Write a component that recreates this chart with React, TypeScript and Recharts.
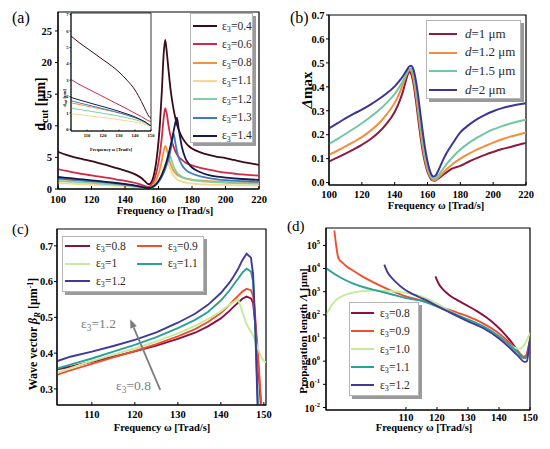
import React from 'react';
import { LineChart, Line, XAxis, YAxis, ReferenceArea, ReferenceLine } from 'recharts';

const SERIF = '"Liberation Serif", "Times New Roman", Times, serif';

// ---------- (a) cut-off thickness ----------
const FREQ_A = [100, 105, 110, 115, 120, 125, 130, 135, 140, 144, 147, 150, 152, 154, 155, 156, 157, 158, 159, 160, 161, 162, 163, 164, 165, 166, 167, 168, 169, 170, 171, 172, 174, 176, 178, 180, 185, 190, 195, 200, 205, 210, 215, 220];
const DCUT_04 = [5.9, 5.4, 5.0, 4.7, 4.4, 4.05, 3.7, 3.3, 2.9, 2.55, 2.2, 1.7, 1.2, 0.75, 0.8, 1.2, 1.95, 3.2, 5.0, 7.5, 10.9, 15.5, 21.0, 23.6, 21.5, 18.8, 16.2, 14.2, 12.6, 11.3, 10.2, 9.4, 8.2, 7.4, 6.8, 6.4, 5.8, 5.4, 5.1, 4.9, 4.6, 4.3, 4.05, 3.8];
const DCUT_06 = [3.15, 2.85, 2.6, 2.35, 2.15, 1.95, 1.75, 1.5, 1.3, 1.1, 0.9, 0.65, 0.45, 0.35, 0.45, 0.75, 1.2, 1.9, 2.9, 4.2, 5.9, 8.2, 11.0, 12.8, 11.8, 10.0, 8.6, 7.5, 6.7, 6.0, 5.5, 5.1, 4.6, 4.2, 3.95, 3.75, 3.35, 3.05, 2.8, 2.6, 2.45, 2.3, 2.2, 2.1];
const DCUT_08 = [1.6, 1.48, 1.37, 1.27, 1.17, 1.07, 0.96, 0.84, 0.7, 0.58, 0.46, 0.32, 0.22, 0.18, 0.25, 0.45, 0.75, 1.15, 1.7, 2.4, 3.3, 4.5, 5.9, 6.8, 6.2, 5.1, 4.1, 3.4, 2.9, 2.55, 2.3, 2.1, 1.85, 1.7, 1.6, 1.5, 1.35, 1.25, 1.17, 1.1, 1.06, 1.03, 1.0, 0.98];
const DCUT_11 = [0.95, 0.88, 0.82, 0.76, 0.7, 0.64, 0.57, 0.5, 0.42, 0.34, 0.27, 0.18, 0.12, 0.1, 0.14, 0.25, 0.42, 0.65, 0.95, 1.35, 1.85, 2.45, 3.15, 3.8, 4.3, 3.9, 3.2, 2.55, 2.1, 1.78, 1.55, 1.38, 1.16, 1.03, 0.94, 0.87, 0.77, 0.7, 0.66, 0.63, 0.6, 0.58, 0.56, 0.55];
const DCUT_12 = [1.3, 1.21, 1.12, 1.04, 0.96, 0.87, 0.78, 0.68, 0.57, 0.46, 0.36, 0.24, 0.16, 0.12, 0.15, 0.25, 0.4, 0.62, 0.9, 1.25, 1.7, 2.25, 2.9, 3.7, 4.6, 5.4, 5.2, 4.4, 3.6, 3.0, 2.6, 2.3, 1.92, 1.68, 1.53, 1.42, 1.25, 1.12, 1.04, 0.98, 0.93, 0.9, 0.87, 0.85];
const DCUT_13 = [1.7, 1.58, 1.46, 1.35, 1.24, 1.12, 1.0, 0.87, 0.72, 0.58, 0.45, 0.3, 0.2, 0.15, 0.17, 0.25, 0.38, 0.56, 0.8, 1.1, 1.5, 1.95, 2.5, 3.15, 3.9, 4.8, 5.9, 7.3, 8.8, 7.4, 6.0, 5.0, 3.8, 3.1, 2.7, 2.45, 2.0, 1.72, 1.53, 1.4, 1.31, 1.24, 1.19, 1.15];
const DCUT_14 = [1.9, 1.77, 1.64, 1.51, 1.38, 1.25, 1.1, 0.95, 0.79, 0.64, 0.5, 0.34, 0.24, 0.18, 0.2, 0.28, 0.42, 0.62, 0.9, 1.25, 1.7, 2.25, 2.9, 3.65, 4.5, 5.5, 6.6, 7.8, 9.1, 10.4, 11.3, 9.6, 6.6, 4.9, 4.0, 3.4, 2.65, 2.2, 1.95, 1.8, 1.68, 1.58, 1.5, 1.45];

// inset of (a)
const FREQ_IN = [100, 105, 110, 115, 120, 125, 130, 135, 140, 144, 147, 149, 150];
const IN_04 = [5.7, 5.3, 4.95, 4.6, 4.25, 3.9, 3.5, 3.0, 2.4, 1.7, 1.1, 0.75, 0.7];
const IN_06 = [3.05, 2.75, 2.5, 2.25, 2.0, 1.75, 1.5, 1.25, 0.98, 0.78, 0.6, 0.5, 0.48];
const IN_08 = [1.62, 1.52, 1.42, 1.32, 1.22, 1.12, 1.0, 0.87, 0.71, 0.55, 0.4, 0.27, 0.2];
const IN_11 = [0.95, 0.9, 0.84, 0.78, 0.72, 0.66, 0.59, 0.52, 0.44, 0.36, 0.27, 0.19, 0.15];
const IN_12 = [1.3, 1.22, 1.14, 1.06, 0.98, 0.9, 0.81, 0.71, 0.59, 0.47, 0.35, 0.24, 0.19];
const IN_13 = [1.75, 1.62, 1.5, 1.38, 1.26, 1.14, 1.01, 0.87, 0.71, 0.55, 0.4, 0.27, 0.21];
const IN_14 = [1.95, 1.8, 1.66, 1.52, 1.39, 1.25, 1.1, 0.94, 0.76, 0.58, 0.42, 0.28, 0.22];

const EPS_A = ['0.4', '0.6', '0.8', '1.1', '1.2', '1.3', '1.4'];
const COLORS_A = ['#3a0b18', '#d12a45', '#f5923e', '#fdd590', '#7fcfa5', '#3b7dc2', '#191947'];
const MAIN_A = [DCUT_04, DCUT_06, DCUT_08, DCUT_11, DCUT_12, DCUT_13, DCUT_14];
const INSET_A = [IN_04, IN_06, IN_08, IN_11, IN_12, IN_13, IN_14];

// ---------- (b) Δmax ----------
const FREQ_B = [100, 105, 110, 115, 120, 125, 130, 135, 140, 143, 145, 147, 148, 149, 150, 151, 152, 153, 154, 155, 156, 157, 158, 159, 160, 161, 162, 163, 164, 165, 166, 168, 170, 172, 175, 180, 185, 190, 195, 200, 205, 210, 215, 220];
const DMAX_1 = [0.088, 0.104, 0.121, 0.139, 0.158, 0.18, 0.208, 0.245, 0.295, 0.34, 0.38, 0.43, 0.452, 0.463, 0.455, 0.43, 0.39, 0.34, 0.285, 0.23, 0.18, 0.135, 0.098, 0.068, 0.045, 0.028, 0.016, 0.01, 0.008, 0.01, 0.014, 0.024, 0.035, 0.045, 0.058, 0.07, 0.087, 0.102, 0.116, 0.128, 0.139, 0.148, 0.157, 0.165];
const DMAX_12 = [0.116, 0.133, 0.151, 0.17, 0.19, 0.215, 0.245, 0.284, 0.333, 0.375, 0.41, 0.448, 0.463, 0.472, 0.468, 0.448, 0.413, 0.366, 0.312, 0.256, 0.203, 0.155, 0.114, 0.08, 0.054, 0.034, 0.021, 0.013, 0.01, 0.012, 0.017, 0.03, 0.045, 0.058, 0.076, 0.1, 0.12, 0.138, 0.153, 0.167, 0.18, 0.191, 0.2, 0.209];
const DMAX_15 = [0.162, 0.182, 0.203, 0.225, 0.248, 0.273, 0.3, 0.332, 0.37, 0.4, 0.424, 0.452, 0.466, 0.476, 0.477, 0.465, 0.437, 0.395, 0.343, 0.287, 0.232, 0.18, 0.135, 0.097, 0.067, 0.045, 0.029, 0.019, 0.015, 0.018, 0.025, 0.043, 0.062, 0.08, 0.104, 0.138, 0.165, 0.187, 0.206, 0.222, 0.235, 0.246, 0.255, 0.263];
const DMAX_2 = [0.226, 0.247, 0.268, 0.287, 0.305, 0.325, 0.347, 0.372, 0.402, 0.426, 0.444, 0.466, 0.477, 0.486, 0.488, 0.48, 0.458, 0.423, 0.378, 0.325, 0.27, 0.216, 0.167, 0.124, 0.088, 0.06, 0.04, 0.028, 0.025, 0.03, 0.042, 0.072, 0.102, 0.128, 0.16, 0.21, 0.24, 0.264, 0.283, 0.298, 0.31, 0.319, 0.326, 0.332];
const D_LABELS = ['1', '1.2', '1.5', '2'];
const COLORS_B = ['#8e1b3c', '#f68c3e', '#70c7a2', '#3c3597'];
const SERIES_B = [DMAX_1, DMAX_12, DMAX_15, DMAX_2];

// ---------- (c) wave vector ----------
const FREQ_C = [102, 105, 110, 115, 120, 125, 130, 134, 137, 140, 142, 143, 144, 145, 146, 147, 147.5, 148, 148.5, 149, 149.5, 150, 150.5];
const BETA_08 = [0.355, 0.362, 0.376, 0.39, 0.405, 0.421, 0.44, 0.457, 0.475, 0.497, 0.518, 0.53, 0.541, 0.552, 0.558, 0.553, 0.54, 0.48, 0.4, 0.31, 0.22, 0.1, 0.05];
const BETA_09 = [0.34, 0.352, 0.37, 0.388, 0.406, 0.425, 0.447, 0.467, 0.487, 0.512, 0.535, 0.548, 0.56, 0.572, 0.58, 0.576, 0.56, 0.5, 0.42, 0.33, 0.24, 0.1, 0.05];
const BETA_10 = [0.345, 0.358, 0.378, 0.396, 0.413, 0.433, 0.455, 0.476, 0.495, 0.517, 0.535, 0.543, 0.551, 0.515, 0.48, 0.46, 0.45, 0.435, 0.418, 0.4, 0.387, 0.378, 0.374];
const BETA_11 = [0.357, 0.368, 0.385, 0.404, 0.423, 0.445, 0.47, 0.493, 0.515, 0.547, 0.575, 0.592, 0.608, 0.625, 0.636, 0.628, 0.6, 0.47, 0.3, 0.12, 0.05, 0.05, 0.05];
const BETA_12 = [0.378, 0.39, 0.404, 0.42, 0.437, 0.458, 0.485, 0.51, 0.535, 0.568, 0.597, 0.615, 0.635, 0.66, 0.678, 0.667, 0.62, 0.48, 0.27, 0.1, 0.05, 0.05, 0.05];
const ARROW_C = [{ x: 125.9, y: 0.297 }, { x: 118.9, y: 0.495 }];

// ---------- (d) propagation length ----------
const FREQ_D08 = [119.5, 120.5, 122, 124, 127, 130, 133, 136, 139, 142, 144, 146, 147.3, 148.3, 149, 149.5, 150];
const LEN_D08 = [4570, 2240, 1230, 708, 398, 240, 141, 75.9, 35.5, 14.1, 6.6, 2.8, 1.58, 1.41, 2.0, 4.0, 8.9];
const FREQ_D09 = [86.9, 88.2, 89.5, 91, 93, 96, 100, 105, 110, 115, 120, 125, 130, 135, 140, 143, 146, 148, 149, 149.5, 150];
const LEN_D09 = [436000, 28200, 17800, 12000, 7940, 4470, 2340, 1150, 631, 417, 251, 148, 85.1, 41.7, 15.8, 7.1, 2.8, 1.58, 1.9, 3.2, 6.3];
const FREQ_D10 = [84.2, 85.5, 87, 89, 92, 96, 100, 105, 110, 115, 120, 125, 130, 135, 140, 143, 145, 146.5, 147.5, 148.5, 149.3, 150];
const LEN_D10 = [100, 200, 380, 603, 851, 1050, 1120, 1070, 891, 631, 302, 126, 58.9, 26.3, 10.7, 5.5, 3.8, 3.4, 4.0, 6.0, 10, 16.6];
const FREQ_D11 = [84.2, 86, 89, 93, 97, 100, 105, 110, 115, 120, 125, 130, 135, 140, 143, 146, 148, 149, 149.5, 150];
const LEN_D11 = [10500, 7080, 3980, 2240, 1480, 1170, 794, 525, 398, 229, 120, 63.1, 31.6, 12.0, 5.6, 2.4, 1.35, 1.58, 2.8, 7.1];
const FREQ_D12 = [103, 104, 105.5, 107, 109, 111, 114, 117, 120, 125, 130, 135, 140, 143, 146, 148.3, 149, 149.5, 150];
const LEN_D12 = [14800, 7080, 3800, 2400, 1410, 955, 603, 398, 240, 110, 52.5, 26.3, 9.5, 4.3, 1.78, 0.93, 1.0, 2.5, 8.3];

const EPS_CD = ['0.8', '0.9', '1', '1.1', '1.2'];
const EPS_D = ['0.8', '0.9', '1.0', '1.1', '1.2'];
const COLORS_CD = ['#8b0f3f', '#f24e2e', '#c3eb9b', '#2aa198', '#41389a'];
const SERIES_C = [BETA_08, BETA_09, BETA_10, BETA_11, BETA_12];
const SERIES_D = [
  [FREQ_D08, LEN_D08],
  [FREQ_D09, LEN_D09],
  [FREQ_D10, LEN_D10],
  [FREQ_D11, LEN_D11],
  [FREQ_D12, LEN_D12],
];

const tickStyle = { fontSize: 10.5, fontWeight: 700, fill: '#000', fontFamily: SERIF };

const table = (xs: number[], cols: number[][]) =>
  xs.map((f, i) => {
    const row: Record<string, number> = { f };
    cols.forEach((c, j) => { row['s' + j] = c[i]; });
    return row;
  });

const xTitle = (x: number, y: number, size = 10.5) => ({
  content: () => (
    <text x={x} y={y} textAnchor="middle" fontSize={size} fontWeight={700} fill="#000" fontFamily={SERIF}>
      Frequency ω [Trad/s]
    </text>
  ),
});

const yTitle = (x: number, y: number, size: number, node: React.ReactNode) => ({
  content: () => (
    <text transform={`translate(${x},${y}) rotate(-90)`} textAnchor="middle" fontSize={size} fontWeight={700} fill="#000" fontFamily={SERIF}>
      {node}
    </text>
  ),
});

function PowTick({ x, y, payload }: any) {
  const e = Math.round(Math.log10(payload.value));
  return (
    <text x={x} y={y} dy={4} textAnchor="end" fontSize={10} fontWeight={700} fill="#000" fontFamily={SERIF}>
      10<tspan dy={-5} fontSize={6.5}>{e}</tspan>
    </text>
  );
}

function FreqTick({ x, y, payload }: any) {
  return (
    <text x={x} y={y} dy={8} textAnchor="middle" fontSize={10.5} fontWeight={700} fill="#000" fontFamily={SERIF}>
      {payload.value}
    </text>
  );
}

function Arrow({ x1, y1, x2, y2 }: any) {
  const a = Math.atan2(y2 - y1, x2 - x1);
  const len = 9, half = 3.5;
  const bx = x2 - len * Math.cos(a), by = y2 - len * Math.sin(a);
  const px = -Math.sin(a) * half, py = Math.cos(a) * half;
  return (
    <g>
      <line x1={x1} y1={y1} x2={bx} y2={by} stroke="#7d7d7d" strokeWidth={1.8} />
      <polygon points={`${x2},${y2} ${bx + px},${by + py} ${bx - px},${by - py}`} fill="#7d7d7d" />
    </g>
  );
}

function Eps({ v }: { v: string }) {
  return (
    <>ε<span style={{ fontSize: '0.7em', position: 'relative', top: '0.3em' }}>3</span>={v}</>
  );
}

type LegendProps = {
  left: number; top: number; width: number; height: number;
  items: { color: string; label: React.ReactNode }[];
  fontSize: number; first: number; gap: number; sampleX: number; sampleW: number; textX: number;
  cols?: number; colW?: number; shadow?: number;
};

function LegendBox({ left, top, width, height, items, fontSize, first, gap, sampleX, sampleW, textX, cols = 1, colW = 0, shadow = 3 }: LegendProps) {
  return (
    <div style={{ position: 'absolute', left, top, width, height, background: '#fff', border: '1px solid #b5b5b5', boxShadow: `${shadow}px ${shadow}px 0 #9a9a9a`, boxSizing: 'border-box' }}>
      {items.map((it, i) => {
        const c = i % cols, r = Math.floor(i / cols);
        const cy = first + r * gap;
        return (
          <React.Fragment key={i}>
            <div style={{ position: 'absolute', left: sampleX + c * colW, top: cy - 1, width: sampleW, height: 2, background: it.color }} />
            <div style={{ position: 'absolute', left: textX + c * colW, top: cy - fontSize * 0.65, height: fontSize * 1.3, lineHeight: `${fontSize * 1.3}px`, fontSize, color: '#2a2a2a', whiteSpace: 'nowrap', fontFamily: SERIF }}>
              {it.label}
            </div>
          </React.Fragment>
        );
      })}
    </div>
  );
}

function PanelA() {
  const rows = table(FREQ_A, MAIN_A);
  return (
    <div style={{ position: 'absolute', left: 0, top: 0 }}>
      <LineChart width={275} height={225} data={rows} margin={{ top: 12, right: 16, bottom: 0, left: 0 }}>
        <XAxis dataKey="f" type="number" domain={[100, 220]} ticks={[100, 120, 140, 160, 180, 200, 220]} allowDataOverflow interval={0}
          height={36} stroke="#000" tick={tickStyle} tickSize={-3} tickMargin={10} label={xTitle(165, 214)} />
        <YAxis type="number" domain={[0, 28]} ticks={[0, 5, 10, 15, 20, 25]} allowDataOverflow width={58} interval={0}
          stroke="#000" tick={tickStyle} tickSize={3} tickMargin={3}
          label={yTitle(45, 104, 14, <>d<tspan dy={3} fontSize={10}>cut</tspan><tspan dy={-3}> [μm]</tspan></>)} />
        <ReferenceArea x1={100} x2={220} y1={0} y2={28} fill="none" stroke="#000" strokeWidth={1.2} ifOverflow="visible" />
        {MAIN_A.map((_, j) => (
          <Line key={j} type="monotone" dataKey={'s' + j} stroke={COLORS_A[j]} strokeWidth={1.8} dot={false} isAnimationActive={false} />
        ))}
      </LineChart>
    </div>
  );
}

function Inset() {
  const rows = table(FREQ_IN, INSET_A);
  const small = { fontSize: 4.6, fill: '#000', fontFamily: SERIF, fontWeight: 700 };
  return (
    <div style={{ position: 'absolute', left: 50, top: 5 }}>
      <LineChart width={106} height={150} data={rows} margin={{ top: 8, right: 5, bottom: 0, left: 0 }}>
        <XAxis dataKey="f" type="number" domain={[100, 150]} ticks={[110, 120, 130, 140, 150]} allowDataOverflow interval={0}
          height={24} stroke="#000" strokeWidth={0.8} tick={small} tickSize={-1.5} tickMargin={4}
          label={{ content: () => (
            <text x={61} y={145.5} textAnchor="middle" fontSize={4.6} fontWeight={700} fontFamily={SERIF}>Frequency ω [Trad/s]</text>
          ) }} />
        <YAxis type="number" domain={[-0.1, 7.1]} ticks={[0, 1, 2, 3, 4, 5, 6, 7]} allowDataOverflow width={21} interval={0}
          stroke="#000" strokeWidth={0.8} tick={small} tickSize={1.5} tickMargin={1}
          label={{ content: () => (
            <text transform="translate(15.5,93) rotate(-90)" textAnchor="middle" fontSize={4.6} fontWeight={700} fontFamily={SERIF}>
              d<tspan dy={1} fontSize={3.4}>cut</tspan><tspan dy={-1}> [μm]</tspan>
            </text>
          ) }} />
        <ReferenceArea x1={100} x2={150} y1={-0.1} y2={7.1} fill="#fff" fillOpacity={1} stroke="#000" strokeWidth={0.8} ifOverflow="visible" />
        {INSET_A.map((_, j) => (
          <Line key={j} type="monotone" dataKey={'s' + j} stroke={COLORS_A[j]} strokeWidth={1} dot={false} isAnimationActive={false} />
        ))}
      </LineChart>
    </div>
  );
}

function PanelB() {
  const rows = table(FREQ_B, SERIES_B);
  return (
    <div style={{ position: 'absolute', left: 275, top: 0 }}>
      <LineChart width={275} height={225} data={rows} margin={{ top: 15, right: 24, bottom: 0, left: 0 }}>
        <XAxis dataKey="f" type="number" domain={[100, 220]} ticks={[100, 120, 140, 160, 180, 200, 220]} allowDataOverflow interval={0}
          height={40} stroke="#000" tick={tickStyle} tickSize={-3} tickMargin={9} label={xTitle(161, 209)} />
        <YAxis type="number" domain={[-0.01, 0.7]} ticks={[0, 0.1, 0.2, 0.3, 0.4, 0.5, 0.6, 0.7]} allowDataOverflow width={54} interval={0}
          stroke="#000" tick={tickStyle} tickSize={3} tickMargin={1.5} tickFormatter={(v: number) => v.toFixed(1)}
          label={yTitle(37, 90, 15, <><tspan fontStyle="italic">Δ</tspan>max</>)} />
        <ReferenceArea x1={100} x2={220} y1={-0.01} y2={0.7} fill="none" stroke="#000" strokeWidth={1.2} ifOverflow="visible" />
        {SERIES_B.map((_, j) => (
          <Line key={j} type="monotone" dataKey={'s' + j} stroke={COLORS_B[j]} strokeWidth={2} dot={false} isAnimationActive={false} />
        ))}
      </LineChart>
    </div>
  );
}

function PanelC() {
  const rows = table(FREQ_C, SERIES_C);
  return (
    <div style={{ position: 'absolute', left: 0, top: 225 }}>
      <LineChart width={275} height={224} data={rows} margin={{ top: 4, right: 9, bottom: 0, left: 0 }}>
        <XAxis dataKey="f" type="number" domain={[101.9, 150.5]} ticks={[110, 120, 130, 140, 150]} allowDataOverflow interval={0}
          height={44} stroke="#000" tick={tickStyle} tickSize={-3} tickMargin={9} label={xTitle(162, 205.5)} />
        <YAxis type="number" domain={[0.255, 0.747]} ticks={[0.3, 0.4, 0.5, 0.6, 0.7]} allowDataOverflow width={57} interval={0}
          stroke="#000" tick={tickStyle} tickSize={3} tickMargin={1} tickFormatter={(v: number) => v.toFixed(1)}
          label={yTitle(37, 109, 12, <>Wave vector <tspan fontStyle="italic">β</tspan><tspan fontStyle="italic" dy={3} fontSize={8.5}>R</tspan><tspan dy={-3}> [μm</tspan><tspan dy={-4.5} fontSize={8}>-1</tspan><tspan dy={4.5}>]</tspan></>)} />
        <ReferenceArea x1={101.9} x2={150.5} y1={0.255} y2={0.747} fill="none" stroke="#000" strokeWidth={1.2} ifOverflow="visible" />
        {SERIES_C.map((_, j) => (
          <Line key={j} type="linear" dataKey={'s' + j} stroke={COLORS_CD[j]} strokeWidth={1.9} dot={false} isAnimationActive={false} />
        ))}
        <ReferenceLine segment={ARROW_C} ifOverflow="visible" shape={(p: any) => <Arrow {...p} />} />
      </LineChart>
    </div>
  );
}

function PanelD() {
  return (
    <div style={{ position: 'absolute', left: 275, top: 225 }}>
      <LineChart width={275} height={224} margin={{ top: 3, right: 20, bottom: 0, left: 0 }}>
        <XAxis dataKey="f" type="number" domain={[84.2, 150]} ticks={[110, 120, 130, 140, 150]} allowDataOverflow interval={0} minTickGap={0}
          height={39} stroke="#000" tick={<FreqTick />} tickSize={-3} tickMargin={6} label={xTitle(149, 205.5)} />
        <YAxis type="number" scale="log" domain={[0.0078, 560000]} ticks={[0.01, 0.1, 1, 10, 100, 1000, 10000, 100000]} allowDataOverflow width={51} interval={0}
          stroke="#000" tick={<PowTick />} tickSize={3} tickMargin={3}
          label={yTitle(32, 106, 11, <>Propagation length <tspan fontStyle="italic">Λ</tspan> [μm]</>)} />
        <ReferenceArea x1={84.2} x2={150} y1={0.0078} y2={560000} fill="none" stroke="#000" strokeWidth={1.2} ifOverflow="visible" />
        {SERIES_D.map(([xs, ys], j) => (
          <Line key={j} data={xs.map((f, i) => ({ f, v: ys[i] }))} type="monotone" dataKey="v" stroke={COLORS_CD[j]}
            strokeWidth={1.9} dot={false} isAnimationActive={false} />
        ))}
      </LineChart>
    </div>
  );
}

const letter = (text: string, left: number, top: number, size = 16) => (
  <div style={{ position: 'absolute', left, top, fontSize: size, lineHeight: `${size}px`, fontFamily: SERIF, color: '#000' }}>{text}</div>
);

export default function App() {
  return (
    <div style={{ position: 'absolute', left: 0, top: 0, width: 550, height: 449, background: '#fff', overflow: 'hidden', fontFamily: SERIF }}>
      <PanelA />
      <Inset />
      <PanelB />
      <PanelC />
      <PanelD />

      {letter('(a)', 12, 10)}
      {letter('(b)', 290, 10)}
      {letter('(c)', 12, 222, 15)}
      {letter('(d)', 287, 219, 15)}

      <LegendBox left={190} top={13} width={63} height={130} fontSize={11.5} first={12} gap={18.3}
        sampleX={2} sampleW={24} textX={31}
        items={EPS_A.map((v, i) => ({ color: COLORS_A[i], label: <Eps v={v} /> }))} />

      <LegendBox left={426} top={20} width={95} height={79} fontSize={13} first={13} gap={18.7}
        sampleX={2} sampleW={28} textX={38}
        items={D_LABELS.map((v, i) => ({ color: COLORS_B[i], label: <><i>d</i>={v} μm</> }))} />

      <LegendBox left={62} top={236} width={142} height={56} fontSize={11.5} first={9} gap={17.5}
        sampleX={2} sampleW={25} textX={33} cols={2} colW={72}
        items={EPS_CD.map((v, i) => ({ color: COLORS_CD[i], label: <Eps v={v} /> }))} />

      <LegendBox left={349} top={302} width={70} height={94} fontSize={11.5} first={10} gap={18}
        sampleX={1} sampleW={23} textX={30}
        items={EPS_D.map((v, i) => ({ color: COLORS_CD[i], label: <Eps v={v} /> }))} />

      <div style={{ position: 'absolute', left: 81, top: 316, fontSize: 13.5, color: '#7d7d7d', fontFamily: SERIF }}><Eps v="1.2" /></div>
      <div style={{ position: 'absolute', left: 116, top: 378, fontSize: 13.5, color: '#7d7d7d', fontFamily: SERIF }}><Eps v="0.8" /></div>
    </div>
  );
}
